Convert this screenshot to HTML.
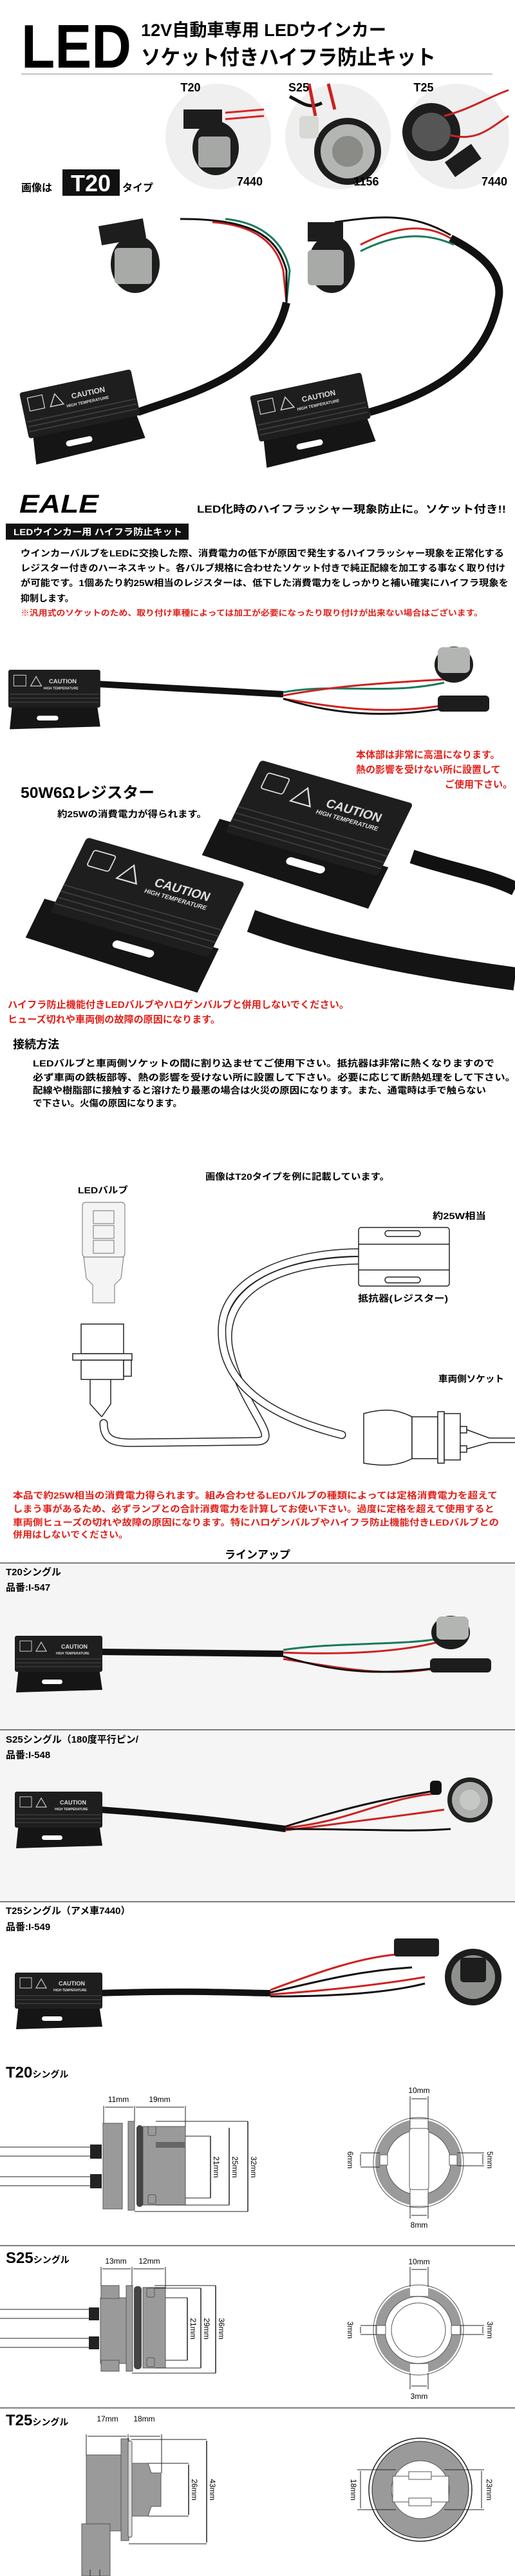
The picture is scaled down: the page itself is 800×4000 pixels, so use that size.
<!DOCTYPE html>
<html><head><meta charset="utf-8"><style>
html,body{margin:0;padding:0;background:#fff}
svg{display:block}
text{font-family:"Liberation Sans","Noto Sans CJK JP",sans-serif;font-weight:bold}
</style></head><body>
<svg width="800" height="4000" viewBox="0 0 800 4000" xmlns="http://www.w3.org/2000/svg">
<defs>
<g id="rbody">
 <path d="M6 48 L130 44 L136 84 L2 88 Z" fill="#151515"/>
 <rect x="42" y="68" width="32" height="7" rx="3.5" fill="#fff"/>
 <rect x="0" y="0" width="136" height="56" rx="3" fill="#1e1e1e"/>
 <g stroke="#3c3c3c" stroke-width="1.5"><line x1="2" y1="36" x2="134" y2="36"/><line x1="2" y1="42" x2="134" y2="42"/><line x1="2" y1="48" x2="134" y2="48"/></g>
 <rect x="8" y="8" width="18" height="16" fill="none" stroke="#ccc" stroke-width="1"/>
 <path d="M33 24 L41 10 L49 24 Z" fill="none" stroke="#ccc" stroke-width="1.2"/>
</g>
</defs>

<!-- ===== Section 1 ===== -->
<text x="33" y="105" font-size="96" textLength="171" lengthAdjust="spacingAndGlyphs">LED</text>
<text x="219" y="56" font-size="27" textLength="381" lengthAdjust="spacingAndGlyphs">12V自動車専用 LEDウインカー</text>
<text x="219" y="100" font-size="32" textLength="458" lengthAdjust="spacingAndGlyphs">ソケット付きハイフラ防止キット</text>
<line x1="33" y1="115" x2="765" y2="115" stroke="#888" stroke-width="1"/>

<circle cx="339" cy="212" r="82" fill="#efefef"/>
<circle cx="525" cy="212" r="82" fill="#efefef"/>
<circle cx="709" cy="212" r="82" fill="#efefef"/>
<rect x="285" y="170" width="60" height="30" fill="#1d1d1d"/>
<ellipse cx="335" cy="230" rx="36" ry="42" fill="#1d1d1d"/>
<rect x="308" y="212" width="50" height="48" rx="6" fill="#a5a8a5"/>
<path d="M350 175 L410 170 M350 185 L410 180" stroke="#d22" stroke-width="3"/>
<path d="M450 150 C470 160 480 170 500 160" stroke="#111" stroke-width="5" fill="none"/>
<path d="M480 130 L490 180 M510 130 L520 170" stroke="#c22" stroke-width="5"/>
<circle cx="540" cy="235" r="52" fill="#1d1d1d"/>
<circle cx="540" cy="235" r="42" fill="#b4b6b4"/>
<circle cx="540" cy="235" r="24" fill="#8a8a86"/>
<rect x="465" y="180" width="30" height="35" rx="6" fill="#d8d8d4"/>
<circle cx="670" cy="205" r="45" fill="#1d1d1d"/>
<circle cx="670" cy="205" r="30" fill="#555"/>
<rect x="695" y="235" width="50" height="28" fill="#1d1d1d" transform="rotate(-35 720 250)"/>
<path d="M690 180 C730 170 760 150 790 140 M700 210 C740 220 760 200 790 180" stroke="#c22" stroke-width="3" fill="none"/>
<text x="296" y="142" font-size="18" text-anchor="middle">T20</text>
<text x="388" y="288" font-size="18" text-anchor="middle">7440</text>
<text x="464" y="142" font-size="18" text-anchor="middle">S25</text>
<text x="569" y="288" font-size="18" text-anchor="middle">1156</text>
<text x="658" y="142" font-size="18" text-anchor="middle">T25</text>
<text x="768" y="288" font-size="18" text-anchor="middle">7440</text>

<text x="33" y="297" font-size="16">画像は</text>
<rect x="97" y="263" width="89" height="41" fill="#111"/>
<text x="141" y="297" font-size="36" fill="#fff" text-anchor="middle">T20</text>
<text x="190" y="297" font-size="16">タイプ</text>

<path d="M214 640 C300 610 420 580 445 470" stroke="#111" stroke-width="12" fill="none"/>
<path d="M445 470 L440 420 C430 380 400 350 330 345" stroke="#c22" stroke-width="3" fill="none"/>
<path d="M445 470 L450 420 C440 370 400 345 350 340" stroke="#1a7a5a" stroke-width="3" fill="none"/>
<path d="M445 470 L445 420 C430 365 390 340 280 340" stroke="#111" stroke-width="3" fill="none"/>
<rect x="155" y="345" width="70" height="30" fill="#1d1d1d" transform="rotate(-10 190 360)"/>
<ellipse cx="210" cy="410" rx="38" ry="45" fill="#1d1d1d"/>
<rect x="178" y="385" width="58" height="56" rx="6" fill="#a8aaa8"/>
<g transform="translate(30 610) rotate(-12) scale(1.3)"><use href="#rbody"/>
<text x="60" y="20" font-size="9" fill="#ddd" font-weight="normal">CAUTION</text><text x="52" y="29" font-size="5" fill="#ddd" font-weight="normal">HIGH TEMPERATURE</text></g>

<path d="M574 640 C680 610 760 560 775 460 C780 420 740 390 700 370" stroke="#111" stroke-width="12" fill="none"/>
<path d="M700 370 C650 340 600 360 560 380" stroke="#c22" stroke-width="3" fill="none"/>
<path d="M705 380 C650 355 600 370 560 390" stroke="#1a7a5a" stroke-width="3" fill="none"/>
<path d="M700 365 C640 330 590 335 520 345" stroke="#111" stroke-width="3" fill="none"/>
<rect x="478" y="345" width="55" height="30" fill="#1d1d1d"/>
<ellipse cx="515" cy="410" rx="36" ry="45" fill="#1d1d1d"/>
<rect x="478" y="388" width="56" height="55" rx="6" fill="#a8aaa8"/>
<g transform="translate(388 615) rotate(-12) scale(1.3)"><use href="#rbody"/>
<text x="60" y="20" font-size="9" fill="#ddd" font-weight="normal">CAUTION</text><text x="52" y="29" font-size="5" fill="#ddd" font-weight="normal">HIGH TEMPERATURE</text></g>

<text x="30" y="796" font-size="40" font-style="italic" textLength="123" lengthAdjust="spacingAndGlyphs">EALE</text>
<text x="306" y="796" font-size="16" textLength="480" lengthAdjust="spacingAndGlyphs">LED化時のハイフラッシャー現象防止に。ソケット付き!!</text>

<!-- ===== Section 2 ===== -->
<rect x="9" y="813" width="284" height="25" fill="#111"/>
<text x="21" y="831" font-size="14" fill="#fff" textLength="262" lengthAdjust="spacingAndGlyphs">LEDウインカー用 ハイフラ防止キット</text>
<g font-size="14">
<text x="32" y="864" textLength="751" lengthAdjust="spacingAndGlyphs">ウインカーバルブをLEDに交換した際、消費電力の低下が原因で発生するハイフラッシャー現象を正常化する</text>
<text x="32" y="887" textLength="753" lengthAdjust="spacingAndGlyphs">レジスター付きのハーネスキット。各バルブ規格に合わせたソケット付きで純正配線を加工する事なく取り付け</text>
<text x="32" y="910" textLength="758" lengthAdjust="spacingAndGlyphs">が可能です。1個あたり約25W相当のレジスターは、低下した消費電力をしっかりと補い確実にハイフラ現象を</text>
<text x="32" y="934">抑制します。</text>
<text x="32" y="956" font-size="12.5" fill="#e0201a" textLength="718" lengthAdjust="spacingAndGlyphs">※汎用式のソケットのため、取り付け車種によっては加工が必要になったり取り付けが出来ない場合はございます。</text>
</g>
<path d="M150 1062 L440 1078" stroke="#111" stroke-width="10"/>
<path d="M440 1075 C520 1060 600 1080 690 1060" stroke="#1a7a5a" stroke-width="3" fill="none"/>
<path d="M440 1080 C520 1065 600 1060 690 1055" stroke="#c22" stroke-width="3" fill="none"/>
<path d="M440 1085 C530 1100 600 1110 690 1095" stroke="#c22" stroke-width="3" fill="none"/>
<path d="M440 1085 C520 1110 600 1115 690 1100" stroke="#111" stroke-width="3" fill="none"/>
<ellipse cx="705" cy="1032" rx="30" ry="28" fill="#1d1d1d"/>
<rect x="680" y="1005" width="50" height="40" rx="8" fill="#b2b5b2"/>
<rect x="680" y="1080" width="80" height="25" rx="6" fill="#1d1d1d"/>
<g transform="translate(13 1040) scale(1.05 1.05)"><use href="#rbody"/>
<text x="60" y="20" font-size="9" fill="#ddd" font-weight="normal">CAUTION</text><text x="52" y="29" font-size="5" fill="#ddd" font-weight="normal">HIGH TEMPERATURE</text></g>

<g font-size="15" fill="#e0201a">
<text x="553" y="1177">本体部は非常に高温になります。</text>
<text x="553" y="1200">熱の影響を受けない所に設置して</text>
<text x="796" y="1223" text-anchor="end">ご使用下さい。</text>
</g>
<text x="32" y="1239" font-size="24" textLength="208" lengthAdjust="spacingAndGlyphs">50W6Ωレジスター</text>
<text x="89" y="1269" font-size="14" textLength="232" lengthAdjust="spacingAndGlyphs">約25Wの消費電力が得られます。</text>

<path d="M640 1330 C700 1350 760 1360 800 1380" stroke="#111" stroke-width="22" fill="none"/>
<path d="M390 1430 C500 1470 650 1500 800 1520" stroke="#141414" stroke-width="36" fill="none"/>
<g transform="translate(405 1180) rotate(16) skewX(-10) scale(0.88)">
 <path d="M-20 120 L290 120 L290 200 L-20 190 Z" fill="#151515"/>
 <rect x="120" y="150" width="70" height="14" rx="7" fill="#fff"/>
 <rect x="0" y="0" width="280" height="140" rx="6" fill="#1e1e1e"/>
 <g stroke="#3e3e3e" stroke-width="2"><line x1="0" y1="90" x2="280" y2="90"/><line x1="0" y1="102" x2="280" y2="102"/><line x1="0" y1="114" x2="280" y2="114"/><line x1="0" y1="126" x2="280" y2="126"/></g>
 <rect x="22" y="18" width="40" height="30" rx="4" fill="none" stroke="#ddd" stroke-width="2"/>
 <path d="M80 55 L98 25 L116 55 Z" fill="none" stroke="#ddd" stroke-width="2.5"/>
 <text x="140" y="48" font-size="22" fill="#ddd" font-weight="normal">CAUTION</text>
 <text x="130" y="64" font-size="11" fill="#ddd" font-weight="normal">HIGH TEMPERATURE</text>
</g>
<g transform="translate(135 1300) rotate(16) skewX(-10) scale(0.88)">
 <path d="M-20 125 L300 125 L300 210 L-20 200 Z" fill="#151515"/>
 <rect x="125" y="160" width="75" height="14" rx="7" fill="#fff"/>
 <rect x="0" y="0" width="290" height="145" rx="6" fill="#1e1e1e"/>
 <g stroke="#3e3e3e" stroke-width="2"><line x1="0" y1="92" x2="290" y2="92"/><line x1="0" y1="104" x2="290" y2="104"/><line x1="0" y1="116" x2="290" y2="116"/><line x1="0" y1="128" x2="290" y2="128"/></g>
 <rect x="22" y="18" width="40" height="30" rx="4" fill="none" stroke="#ddd" stroke-width="2"/>
 <path d="M80 55 L98 25 L116 55 Z" fill="none" stroke="#ddd" stroke-width="2.5"/>
 <text x="145" y="50" font-size="22" fill="#ddd" font-weight="normal">CAUTION</text>
 <text x="135" y="66" font-size="11" fill="#ddd" font-weight="normal">HIGH TEMPERATURE</text>
</g>
<g font-size="15" fill="#e0201a">
<text x="12" y="1565" textLength="530" lengthAdjust="spacingAndGlyphs">ハイフラ防止機能付きLEDバルブやハロゲンバルブと併用しないでください。</text>
<text x="12" y="1588" textLength="330" lengthAdjust="spacingAndGlyphs">ヒューズ切れや車両側の故障の原因になります。</text>
</g>

<!-- ===== Section 3 ===== -->
<text x="20" y="1628" font-size="18">接続方法</text>
<g font-size="14">
<text x="51" y="1656" textLength="717" lengthAdjust="spacingAndGlyphs">LEDバルブと車両側ソケットの間に割り込ませてご使用下さい。抵抗器は非常に熱くなりますので</text>
<text x="51" y="1678" textLength="750" lengthAdjust="spacingAndGlyphs">必ず車両の鉄板部等、熱の影響を受けない所に設置して下さい。必要に応じて断熱処理をして下さい。</text>
<text x="51" y="1698" textLength="704" lengthAdjust="spacingAndGlyphs">配線や樹脂部に接触すると溶けたり最悪の場合は火災の原因になります。また、通電時は手で触らない</text>
<text x="51" y="1718" textLength="232" lengthAdjust="spacingAndGlyphs">で下さい。火傷の原因になります。</text>
<text x="319" y="1832" textLength="286" lengthAdjust="spacingAndGlyphs">画像はT20タイプを例に記載しています。</text>
<text x="121" y="1853" textLength="78" lengthAdjust="spacingAndGlyphs">LEDバルブ</text>
<text x="672" y="1893" textLength="83" lengthAdjust="spacingAndGlyphs">約25W相当</text>
<text x="556" y="2021" textLength="140" lengthAdjust="spacingAndGlyphs">抵抗器(レジスター)</text>
<text x="681" y="2146" textLength="102" lengthAdjust="spacingAndGlyphs">車両側ソケット</text>
</g>
<g fill="none" stroke-linecap="round">
<path d="M161 2210 C161 2245 190 2240 230 2240 L400 2238 C440 2236 370 2180 355 2090 C345 2010 420 1960 556 1957" stroke="#222" stroke-width="13"/>
<path d="M161 2210 C161 2245 190 2240 230 2240 L400 2238 C440 2236 370 2180 355 2090 C345 2010 420 1960 556 1957" stroke="#fff" stroke-width="10"/>
<path d="M556 1945 C460 1945 350 1980 345 2060 C340 2150 420 2200 531 2228" stroke="#222" stroke-width="13"/>
<path d="M556 1945 C460 1945 350 1980 345 2060 C340 2150 420 2200 531 2228" stroke="#fff" stroke-width="10"/>
</g>
<g stroke="#888" stroke-width="1.2" fill="#f4f4f4">
<rect x="128" y="1867" width="66" height="85" rx="5"/>
<rect x="145" y="1880" width="32" height="20"/><rect x="145" y="1903" width="32" height="20"/><rect x="145" y="1926" width="32" height="20"/>
<path d="M130 1952 L192 1952 L188 1985 L178 1995 L178 2023 L144 2023 L144 1995 L134 1985 Z"/>
</g>
<g stroke="#222" stroke-width="1.5" fill="#fff">
<rect x="126" y="2056" width="66" height="46"/>
<rect x="113" y="2102" width="92" height="10"/>
<rect x="126" y="2112" width="66" height="30"/>
<rect x="192" y="2112" width="12" height="25"/>
<path d="M140 2142 L140 2180 L158 2200 M172 2142 L172 2180 L158 2200"/>
</g>
<g stroke="#222" stroke-width="1.5" fill="#fff">
<rect x="557" y="1906" width="141" height="91" rx="4"/>
<rect x="598" y="1911" width="55" height="9" rx="4.5"/>
<rect x="598" y="1983" width="55" height="9" rx="4.5"/>
<line x1="557" y1="1932" x2="698" y2="1932"/><line x1="557" y1="1972" x2="698" y2="1972"/>
</g>
<g stroke="#222" stroke-width="1.5" fill="#fff">
<path d="M565 2195 C600 2185 620 2190 640 2200 L640 2265 C620 2275 600 2278 565 2272 Z"/>
<rect x="640" y="2200" width="40" height="65"/>
<rect x="680" y="2192" width="10" height="80"/>
<rect x="690" y="2195" width="25" height="72"/>
<rect x="715" y="2215" width="10" height="10"/><rect x="715" y="2245" width="10" height="10"/>
<path d="M725 2220 L760 2233 L800 2233 M725 2250 L760 2240 L800 2240"/>
</g>
<g font-size="14" fill="#e0201a">
<text x="20" y="2327" textLength="753" lengthAdjust="spacingAndGlyphs">本品で約25W相当の消費電力得られます。組み合わせるLEDバルブの種類によっては定格消費電力を超えて</text>
<text x="20" y="2348" textLength="748" lengthAdjust="spacingAndGlyphs">しまう事があるため、必ずランプとの合計消費電力を計算してお使い下さい。過度に定格を超えて使用すると</text>
<text x="20" y="2369" textLength="755" lengthAdjust="spacingAndGlyphs">車両側ヒューズの切れや故障の原因になります。特にハロゲンバルブやハイフラ防止機能付きLEDバルブとの</text>
<text x="20" y="2388" textLength="179" lengthAdjust="spacingAndGlyphs">併用はしないでください。</text>
</g>

<!-- ===== Section 4 ===== -->
<rect x="0" y="2428" width="800" height="525" fill="#f5f5f5"/>
<text x="400" y="2420" font-size="17" text-anchor="middle">ラインアップ</text>
<line x1="0" y1="2427" x2="800" y2="2427" stroke="#333" stroke-width="1.2"/>
<g font-size="15">
<text x="9" y="2446">T20シングル</text><text x="9" y="2470">品番:I-547</text>
<text x="9" y="2706">S25シングル（180度平行ピン/</text><text x="9" y="2730">品番:I-548</text>
<text x="9" y="2972">T25シングル（アメ車7440）</text><text x="9" y="2997">品番:I-549</text>
</g>
<line x1="0" y1="2686" x2="800" y2="2686" stroke="#333" stroke-width="1.2"/>
<line x1="0" y1="2953" x2="800" y2="2953" stroke="#333" stroke-width="1.2"/>
<path d="M155 2565 L440 2568" stroke="#111" stroke-width="10"/>
<path d="M440 2562 C520 2550 620 2555 680 2545" stroke="#1a7a5a" stroke-width="3" fill="none"/>
<path d="M440 2566 C540 2570 620 2565 680 2550" stroke="#c22" stroke-width="3" fill="none"/>
<path d="M440 2576 C530 2590 600 2605 680 2590" stroke="#c22" stroke-width="3" fill="none"/>
<path d="M440 2572 C530 2600 600 2600 680 2590" stroke="#111" stroke-width="3" fill="none"/>
<ellipse cx="700" cy="2535" rx="30" ry="26" fill="#1d1d1d"/>
<rect x="678" y="2510" width="50" height="36" rx="8" fill="#b2b5b2"/>
<rect x="668" y="2575" width="95" height="22" rx="6" fill="#1d1d1d"/>
<g transform="translate(23 2540)"><use href="#rbody"/>
<text x="72" y="20" font-size="9" fill="#ddd" font-weight="normal">CAUTION</text><text x="64" y="29" font-size="5" fill="#ddd" font-weight="normal">HIGH TEMPERATURE</text></g>
<path d="M155 2810 C300 2820 400 2835 444 2840" stroke="#111" stroke-width="10" fill="none"/>
<path d="M444 2838 C540 2830 600 2790 680 2785" stroke="#c22" stroke-width="3" fill="none"/>
<path d="M444 2842 C540 2830 620 2820 690 2810" stroke="#c22" stroke-width="3" fill="none"/>
<path d="M444 2836 C560 2800 620 2790 680 2780" stroke="#111" stroke-width="3" fill="none"/>
<path d="M444 2840 C560 2840 640 2845 700 2840" stroke="#111" stroke-width="3" fill="none"/>
<circle cx="730" cy="2795" r="35" fill="#222"/>
<circle cx="730" cy="2795" r="28" fill="#aeb0ae"/>
<circle cx="730" cy="2795" r="16" fill="#c6c8c6"/>
<rect x="668" y="2765" width="18" height="22" rx="6" fill="#111"/>
<g transform="translate(23 2782)"><use href="#rbody"/>
<text x="70" y="20" font-size="9" fill="#ddd" font-weight="normal">CAUTION</text><text x="62" y="29" font-size="5" fill="#ddd" font-weight="normal">HIGH TEMPERATURE</text></g>
<path d="M150 3095 C300 3090 380 3095 420 3095" stroke="#111" stroke-width="10" fill="none"/>
<path d="M420 3090 C500 3060 560 3040 615 3035" stroke="#c22" stroke-width="3" fill="none"/>
<path d="M420 3094 C500 3075 560 3060 640 3055" stroke="#111" stroke-width="3" fill="none"/>
<path d="M420 3097 C520 3090 600 3080 660 3070" stroke="#c22" stroke-width="3" fill="none"/>
<path d="M420 3100 C520 3100 600 3095 660 3080" stroke="#111" stroke-width="3" fill="none"/>
<rect x="612" y="3010" width="70" height="28" rx="4" fill="#1d1d1d"/>
<circle cx="735" cy="3070" r="44" fill="#1d1d1d"/>
<circle cx="735" cy="3070" r="34" fill="#8e908e"/>
<rect x="715" y="3040" width="40" height="38" rx="5" fill="#1d1d1d"/>
<g transform="translate(23 3063)"><use href="#rbody"/>
<text x="68" y="20" font-size="9" fill="#ddd" font-weight="normal">CAUTION</text><text x="60" y="29" font-size="5" fill="#ddd" font-weight="normal">HIGH TEMPERATURE</text></g>

<!-- ===== Section 5 ===== -->
<line x1="0" y1="3487" x2="800" y2="3487" stroke="#333" stroke-width="1.2"/>
<line x1="0" y1="3739" x2="800" y2="3739" stroke="#333" stroke-width="1.2"/>
<text x="9" y="3226" font-size="24">T20<tspan font-size="14">シングル</tspan></text>
<text x="9" y="3514" font-size="24">S25<tspan font-size="14">シングル</tspan></text>
<text x="9" y="3766" font-size="24">T25<tspan font-size="14">シングル</tspan></text>

<g stroke="#222" stroke-width="1" fill="#fff">
<path d="M0 3334 L142 3334 M0 3348 L142 3348 M0 3380 L142 3380 M0 3394 L142 3394"/>
</g>
<g fill="#222"><rect x="140" y="3330" width="18" height="22"/><rect x="140" y="3376" width="18" height="22"/></g>
<g stroke="#555" stroke-width="1" fill="#9a9a9a">
<rect x="160" y="3297" width="30" height="133"/>
<rect x="199" y="3294" width="10" height="138"/>
<rect x="222" y="3302" width="66" height="122"/>
<rect x="230" y="3302" width="12" height="14" rx="2"/><rect x="230" y="3408" width="12" height="14" rx="2"/>
</g>
<rect x="212" y="3300" width="10" height="127" rx="5" fill="#444"/>
<rect x="242" y="3326" width="45" height="9" fill="#666"/>
<g stroke="#222" stroke-width="1" fill="none">
<path d="M161 3270 L161 3297 M209 3270 L209 3294 M288 3270 L288 3302"/>
<path d="M163 3272 L207 3272 M211 3272 L286 3272"/>
<path d="M242 3294 L385 3294 M288 3317 L327 3317 M288 3413 L327 3413 M242 3424 L356 3424 M209 3434 L385 3434"/>
<path d="M327 3317 L327 3413 M356 3304 L356 3424 M385 3294 L385 3434" stroke-width="1.5"/>
</g>
<g font-size="12">
<text x="184" y="3264" text-anchor="middle" style="font-weight:normal">11mm</text>
<text x="248" y="3264" text-anchor="middle" style="font-weight:normal">19mm</text>
<text transform="translate(332 3365) rotate(90)" text-anchor="middle" style="font-weight:normal">21mm</text>
<text transform="translate(361 3365) rotate(90)" text-anchor="middle" style="font-weight:normal">25mm</text>
<text transform="translate(390 3365) rotate(90)" text-anchor="middle" style="font-weight:normal">32mm</text>
</g>
<circle cx="650" cy="3358" r="70" fill="#fff" stroke="#555"/>
<circle cx="650" cy="3358" r="67" fill="#9a9a9a"/>
<circle cx="650" cy="3358" r="50" fill="#fff" stroke="#555"/>
<rect x="637" y="3290" width="28" height="136" fill="#fff" stroke="#555"/>
<rect x="636" y="3305" width="30" height="95" rx="4" fill="#fff" stroke="#555"/>
<rect x="590" y="3346" width="12" height="16" fill="#fff" stroke="#555"/><rect x="698" y="3346" width="12" height="16" fill="#fff" stroke="#555"/>
<g stroke="#222" fill="none" stroke-width="1">
<path d="M637 3255 L637 3290 M665 3255 L665 3290 M639 3259 L663 3259 M637 3426 L637 3445 M665 3426 L665 3445 M639 3440 L663 3440 M560 3343 L590 3343 M560 3365 L590 3365 M560 3345 L560 3363 M710 3343 L752 3343 M710 3363 L752 3363 M750 3345 L750 3361"/>
</g>
<g font-size="12">
<text x="651" y="3250" text-anchor="middle" style="font-weight:normal">10mm</text>
<text x="651" y="3459" text-anchor="middle" style="font-weight:normal">8mm</text>
<text transform="translate(540 3354) rotate(90)" text-anchor="middle" style="font-weight:normal">6mm</text>
<text transform="translate(757 3354) rotate(90)" text-anchor="middle" style="font-weight:normal">5mm</text>
</g>

<g stroke="#222" stroke-width="1"><path d="M0 3586 L140 3586 M0 3600 L140 3600 M0 3631 L140 3631 M0 3645 L140 3645"/></g>
<g fill="#222"><rect x="138" y="3583" width="16" height="20"/><rect x="138" y="3628" width="16" height="20"/></g>
<g stroke="#555" stroke-width="1" fill="#9a9a9a">
<rect x="156" y="3568" width="40" height="102"/>
<rect x="157" y="3549" width="28" height="20"/><rect x="157" y="3665" width="28" height="17"/>
<rect x="196" y="3549" width="10" height="133"/>
<rect x="222" y="3552" width="35" height="125"/>
<rect x="228" y="3553" width="12" height="14" rx="2"/><rect x="228" y="3661" width="12" height="14" rx="2"/>
</g>
<rect x="208" y="3550" width="12" height="129" rx="5" fill="#444"/>
<g stroke="#222" stroke-width="1" fill="none">
<path d="M157 3520 L157 3549 M205 3520 L205 3549 M257 3520 L257 3552 M159 3523 L203 3523 M207 3523 L255 3523"/>
<path d="M240 3553 L312 3553 M257 3568 L291 3568 M257 3665 L291 3665 M240 3677 L312 3677 M205 3685 L335 3685"/>
<path d="M291 3568 L291 3665 M312 3553 L312 3677 M335 3549 L335 3685" stroke-width="1.5"/>
<path d="M240 3549 L335 3549"/>
</g>
<g font-size="12">
<text x="180" y="3515" text-anchor="middle" style="font-weight:normal">13mm</text>
<text x="232" y="3515" text-anchor="middle" style="font-weight:normal">12mm</text>
<text transform="translate(296 3616) rotate(90)" text-anchor="middle" style="font-weight:normal">21mm</text>
<text transform="translate(317 3616) rotate(90)" text-anchor="middle" style="font-weight:normal">29mm</text>
<text transform="translate(340 3616) rotate(90)" text-anchor="middle" style="font-weight:normal">36mm</text>
</g>
<circle cx="650" cy="3618" r="70" fill="#fff" stroke="#555"/>
<circle cx="650" cy="3618" r="67" fill="#9a9a9a"/>
<circle cx="650" cy="3618" r="52" fill="#fff" stroke="#555"/>
<circle cx="650" cy="3618" r="42" fill="#fff" stroke="#555"/>
<rect x="637" y="3551" width="28" height="14" fill="#fff"/><rect x="637" y="3671" width="28" height="14" fill="#fff"/>
<rect x="585" y="3611" width="14" height="14" fill="#fff" stroke="#555"/><rect x="701" y="3611" width="14" height="14" fill="#fff" stroke="#555"/>
<g stroke="#222" fill="none" stroke-width="1">
<path d="M637 3520 L637 3551 M665 3520 L665 3551 M639 3524 L663 3524 M637 3685 L637 3710 M665 3685 L665 3710 M639 3705 L663 3705 M560 3611 L585 3611 M560 3625 L585 3625 M560 3613 L560 3623 M715 3611 L752 3611 M715 3625 L752 3625 M750 3613 L750 3623"/>
</g>
<g font-size="12">
<text x="651" y="3516" text-anchor="middle" style="font-weight:normal">10mm</text>
<text x="651" y="3725" text-anchor="middle" style="font-weight:normal">3mm</text>
<text transform="translate(540 3618) rotate(90)" text-anchor="middle" style="font-weight:normal">3mm</text>
<text transform="translate(757 3618) rotate(90)" text-anchor="middle" style="font-weight:normal">3mm</text>
</g>

<g stroke="#555" stroke-width="1" fill="#9a9a9a">
<rect x="134" y="3812" width="60" height="118"/>
<rect x="188" y="3787" width="12" height="158"/>
<path d="M204 3825 L230 3825 L235 3840 L250 3840 L250 3892 L235 3892 L230 3907 L204 3907 Z"/>
<rect x="127" y="3919" width="44" height="81"/>
</g>
<rect x="199" y="3790" width="6" height="150" rx="3" fill="#ddd" stroke="#555"/>
<g stroke="#222" stroke-width="1" fill="none">
<path d="M134 3780 L134 3812 M199 3780 L199 3790 M251 3780 L251 3840 M136 3783 L197 3783 M201 3783 L249 3783"/>
<path d="M204 3788 L321 3788 M230 3825 L293 3825 M230 3907 L293 3907 M200 3950 L321 3950"/>
<path d="M293 3827 L293 3905 M321 3790 L321 3948" stroke-width="1.5"/>
<path d="M140 4000 L140 3990 M155 4000 L155 3990"/>
</g>
<g font-size="12">
<text x="167" y="3760" text-anchor="middle" style="font-weight:normal">17mm</text>
<text x="224" y="3760" text-anchor="middle" style="font-weight:normal">18mm</text>
<text transform="translate(298 3866) rotate(90)" text-anchor="middle" style="font-weight:normal">26mm</text>
<text transform="translate(326 3866) rotate(90)" text-anchor="middle" style="font-weight:normal">43mm</text>
</g>
<circle cx="653" cy="3866" r="80" fill="#fff" stroke="#222" stroke-width="1.5"/>
<circle cx="653" cy="3866" r="75" fill="#9a9a9a" stroke="#222"/>
<circle cx="653" cy="3866" r="45" fill="#fff" stroke="#555"/>
<rect x="610" y="3845" width="87" height="40" fill="#fff" stroke="#555"/>
<rect x="635" y="3838" width="35" height="12" fill="#fff" stroke="#555"/>
<rect x="635" y="3879" width="35" height="12" fill="#fff" stroke="#555"/>
<g stroke="#222" fill="none" stroke-width="1">
<path d="M555 3835 L615 3835 M555 3897 L615 3897 M560 3837 L560 3895 M690 3835 L752 3835 M690 3897 L752 3897 M748 3837 L748 3895"/>
</g>
<g font-size="12">
<text transform="translate(545 3866) rotate(90)" text-anchor="middle" style="font-weight:normal">18mm</text>
<text transform="translate(756 3866) rotate(90)" text-anchor="middle" style="font-weight:normal">23mm</text>
</g>
</svg>
</body></html>
